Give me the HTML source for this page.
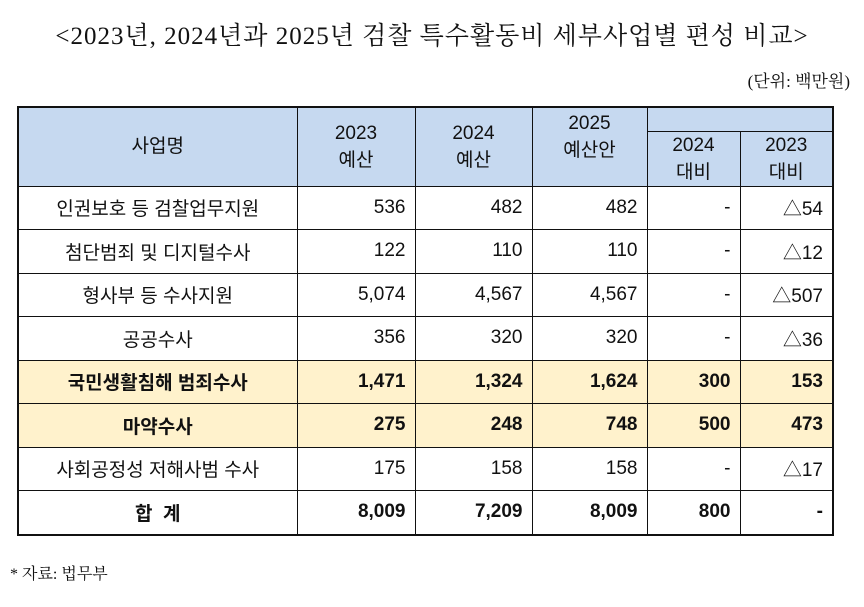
<!DOCTYPE html>
<html><head><meta charset="utf-8">
<style>
html,body{margin:0;padding:0;background:#fff;}
body{width:864px;height:607px;position:relative;overflow:hidden;font-family:"Liberation Sans","Noto Sans CJK KR","NanumGothic",sans-serif;color:#111;}
.title{position:absolute;left:0;width:864px;top:16px;text-align:center;font-family:"Liberation Serif","Noto Serif CJK SC","NanumGothic",serif;font-size:25px;letter-spacing:1px;}
.unit{position:absolute;right:14px;top:67px;font-size:17px;font-family:"Liberation Serif","Noto Serif CJK SC",serif;}
table{position:absolute;left:17px;top:106px;border-collapse:collapse;table-layout:fixed;border:2px solid #111;}
td{border:1px solid #111;font-size:19px;padding:0;white-space:nowrap;overflow:hidden;}
.h{background:#c6d9f0;text-align:center;line-height:27px;}
.n{text-align:right;padding-right:9px;}
.c{text-align:center;}
.y td{background:#fff2cc;font-weight:bold;}
.b td{font-weight:bold;}
tr.r td{height:42.5px;}
.foot{position:absolute;left:10px;top:561px;font-size:16px;font-family:"Liberation Serif","Noto Serif CJK SC",serif;}
</style></head><body>
<div class="title">&lt;2023년, 2024년과 2025년 검찰 특수활동비 세부사업별 편성 비교&gt;</div>
<div class="unit">(단위: 백만원)</div>
<table>
<colgroup><col style="width:279px"><col style="width:118px"><col style="width:117px"><col style="width:115px"><col style="width:93px"><col style="width:93px"></colgroup>
<tr style="height:24px">
<td class="h" rowspan="2">사업명</td>
<td class="h" rowspan="2">2023<br>예산</td>
<td class="h" rowspan="2">2024<br>예산</td>
<td class="h" rowspan="2" style="vertical-align:top;padding-top:2px">2025<br>예산안</td>
<td class="h" colspan="2" style="border-bottom:1px solid #111"></td>
</tr>
<tr style="height:53px">
<td class="h">2024<br>대비</td>
<td class="h">2023<br>대비</td>
</tr>
<tr class="r"><td class="c">인권보호 등 검찰업무지원</td><td class="n">536</td><td class="n">482</td><td class="n">482</td><td class="n">-</td><td class="n">△54</td></tr>
<tr class="r"><td class="c">첨단범죄 및 디지털수사</td><td class="n">122</td><td class="n">110</td><td class="n">110</td><td class="n">-</td><td class="n">△12</td></tr>
<tr class="r"><td class="c">형사부 등 수사지원</td><td class="n">5,074</td><td class="n">4,567</td><td class="n">4,567</td><td class="n">-</td><td class="n">△507</td></tr>
<tr class="r"><td class="c">공공수사</td><td class="n">356</td><td class="n">320</td><td class="n">320</td><td class="n">-</td><td class="n">△36</td></tr>
<tr class="r y"><td class="c">국민생활침해 범죄수사</td><td class="n">1,471</td><td class="n">1,324</td><td class="n">1,624</td><td class="n">300</td><td class="n">153</td></tr>
<tr class="r y"><td class="c">마약수사</td><td class="n">275</td><td class="n">248</td><td class="n">748</td><td class="n">500</td><td class="n">473</td></tr>
<tr class="r"><td class="c">사회공정성 저해사범 수사</td><td class="n">175</td><td class="n">158</td><td class="n">158</td><td class="n">-</td><td class="n">△17</td></tr>
<tr class="r b"><td class="c">합 &nbsp;계</td><td class="n">8,009</td><td class="n">7,209</td><td class="n">8,009</td><td class="n">800</td><td class="n">-</td></tr>
</table>
<div class="foot">* 자료: 법무부</div>
</body></html>
